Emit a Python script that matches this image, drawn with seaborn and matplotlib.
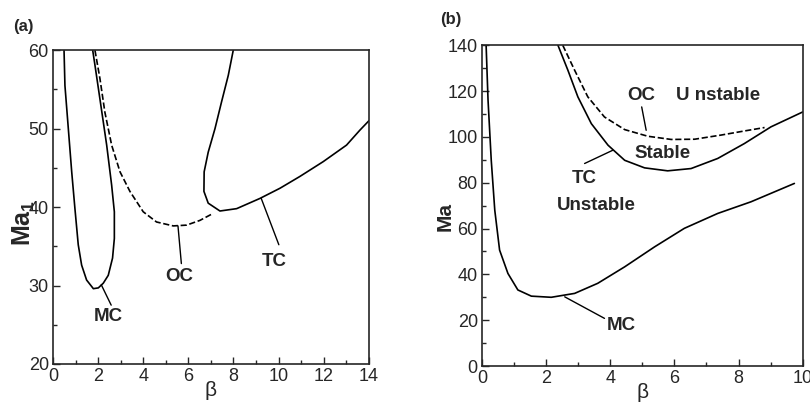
"""
Stability diagrams Ma vs beta: (a) MC / OC / TC branches, (b) same for the second case
"""
import matplotlib
matplotlib.use('Agg')
import matplotlib.pyplot as plt
from matplotlib.ticker import MultipleLocator
import pandas as pd
import seaborn as sns

sns.set_style('ticks')
plt.rcParams['font.family'] = ['Liberation Sans', 'DejaVu Sans']

# panel (a) curves
a_mc_beta = [0.49, 0.53, 0.68, 0.83, 0.97, 1.12, 1.27, 1.49, 1.79, 2.01, 2.23, 2.45, 2.64,
             2.72, 2.72, 2.60, 2.38, 2.08, 1.86, 1.76]
a_mc_ma = [60, 55.5, 50.0, 44.5, 39.9, 35.2, 32.6, 30.7, 29.6, 29.7, 30.3, 31.3, 33.5,
           36.0, 39.4, 42.8, 47.9, 53.8, 58.1, 60]
a_oc_beta = [1.86, 2.08, 2.30, 2.60, 2.97, 3.41, 4.00, 4.59, 5.33, 5.92, 6.51, 7.10]
a_oc_ma = [60, 56.4, 52.1, 47.9, 44.5, 42.0, 39.4, 38.1, 37.6, 37.7, 38.3, 39.2]
a_tc_beta = [7.99, 7.77, 7.47, 7.18, 6.88, 6.70, 6.69, 6.88, 7.40, 8.14, 9.17, 10.06, 10.94,
             11.98, 13.01, 13.60, 14.0]
a_tc_ma = [60, 56.8, 53.4, 50.0, 47.0, 44.5, 42.0, 40.5, 39.5, 39.8, 41.1, 42.4, 43.9,
           45.8, 47.9, 49.8, 51.0]

# panel (b) curves
b_mc_beta = [0.13, 0.19, 0.29, 0.40, 0.55, 0.81, 1.12, 1.54, 2.16, 2.89, 3.61, 4.45, 5.38,
             6.31, 7.35, 8.39, 9.74]
b_mc_ma = [140, 116.0, 89.8, 68.0, 50.6, 40.4, 33.2, 30.5, 30.0, 31.7, 36.1, 43.3, 52.0,
           60.1, 66.6, 71.7, 79.7]
b_tc_beta = [2.37, 2.68, 2.99, 3.41, 3.93, 4.45, 5.07, 5.79, 6.52, 7.35, 8.18, 9.01, 10.0]
b_tc_ma = [140, 129.1, 117.5, 105.8, 96.4, 89.8, 86.5, 85.2, 86.2, 90.6, 97.1, 104.4, 110.9]
b_oc_beta = [2.52, 2.89, 3.30, 3.82, 4.45, 5.17, 5.90, 6.63, 7.45, 8.18, 8.81]
b_oc_ma = [140, 129.1, 117.5, 108.7, 103.2, 100.3, 98.9, 99.0, 100.8, 102.6, 104.1]


def draw_curve(ax, beta, ma, dashed=False):
    # estimator=None: curves fold back on themselves, so no averaging over repeated beta
    df = pd.DataFrame({'beta': beta, 'Ma': ma})
    sns.lineplot(data=df, x='beta', y='Ma', sort=False, estimator=None, ax=ax,
                 color='black', lw=1.2, linestyle='--' if dashed else '-',
                 solid_joinstyle='round')


def style_axes(ax, xmax, ymin, ymax, xmaj, ymaj, ymin_step):
    ax.set_xlim(0, xmax)
    ax.set_ylim(ymin, ymax)
    ax.xaxis.set_major_locator(MultipleLocator(xmaj))
    ax.xaxis.set_minor_locator(MultipleLocator(xmaj / 2))
    ax.yaxis.set_major_locator(MultipleLocator(ymaj))
    ax.yaxis.set_minor_locator(MultipleLocator(ymin_step))
    ax.tick_params(which='both', direction='in', labelsize=13, pad=3)
    ax.tick_params(which='major', length=5, width=1)
    ax.tick_params(which='minor', length=3, width=1)
    for sp in ax.spines.values():
        sp.set_linewidth(1.2)
    ax.set_xlabel('β', fontsize=15, labelpad=-3)


def label(ax, x, y, s):
    ax.text(x, y, s, fontsize=13.5, fontweight='bold', ha='center', va='center')


def leader(ax, x0, y0, x1, y1):
    ax.plot([x0, x1], [y0, y1], color='black', lw=1)


fig = plt.figure(figsize=(8.1, 4.07), dpi=100)
ax_a = fig.add_axes([0.0654, 0.1057, 0.390, 0.771])
ax_b = fig.add_axes([0.595, 0.1007, 0.396, 0.788])

# (a)
draw_curve(ax_a, a_mc_beta, a_mc_ma)
draw_curve(ax_a, a_oc_beta, a_oc_ma, dashed=True)
draw_curve(ax_a, a_tc_beta, a_tc_ma)
style_axes(ax_a, 14, 20, 60, 2, 10, 5)
ax_a.set_ylabel('Ma$_\\mathregular{1}$', fontsize=18, fontweight='bold')
ax_a.yaxis.set_label_coords(-0.05, 0.45)
label(ax_a, 2.44, 26.0, 'MC')
leader(ax_a, 2.58, 27.5, 2.14, 30.1)
label(ax_a, 5.58, 31.1, 'OC')
leader(ax_a, 5.69, 32.8, 5.54, 37.6)
label(ax_a, 9.82, 33.0, 'TC')
leader(ax_a, 10.01, 35.2, 9.23, 41.1)
fig.text(0.016, 0.924, '(a)', fontsize=12, fontweight='bold')

# (b)
draw_curve(ax_b, b_mc_beta, b_mc_ma)
draw_curve(ax_b, b_tc_beta, b_tc_ma)
draw_curve(ax_b, b_oc_beta, b_oc_ma, dashed=True)
style_axes(ax_b, 10, 0, 140, 2, 20, 10)
ax_b.set_ylabel('Ma', fontsize=15, fontweight='bold')
ax_b.yaxis.set_label_coords(-0.084, 0.467)
label(ax_b, 4.96, 118.2, 'OC')
leader(ax_b, 4.98, 113.1, 5.12, 102.9)
label(ax_b, 7.35, 118.2, 'U nstable')
label(ax_b, 5.64, 92.8, 'Stable')
label(ax_b, 3.20, 81.9, 'TC')
leader(ax_b, 3.20, 88.4, 4.08, 94.2)
label(ax_b, 3.56, 70.2, 'Unstable')
label(ax_b, 4.34, 17.9, 'MC')
leader(ax_b, 3.82, 20.8, 2.58, 30.2)
fig.text(0.543, 0.94, '(b)', fontsize=12, fontweight='bold')

fig.savefig('out.png', dpi=100)
